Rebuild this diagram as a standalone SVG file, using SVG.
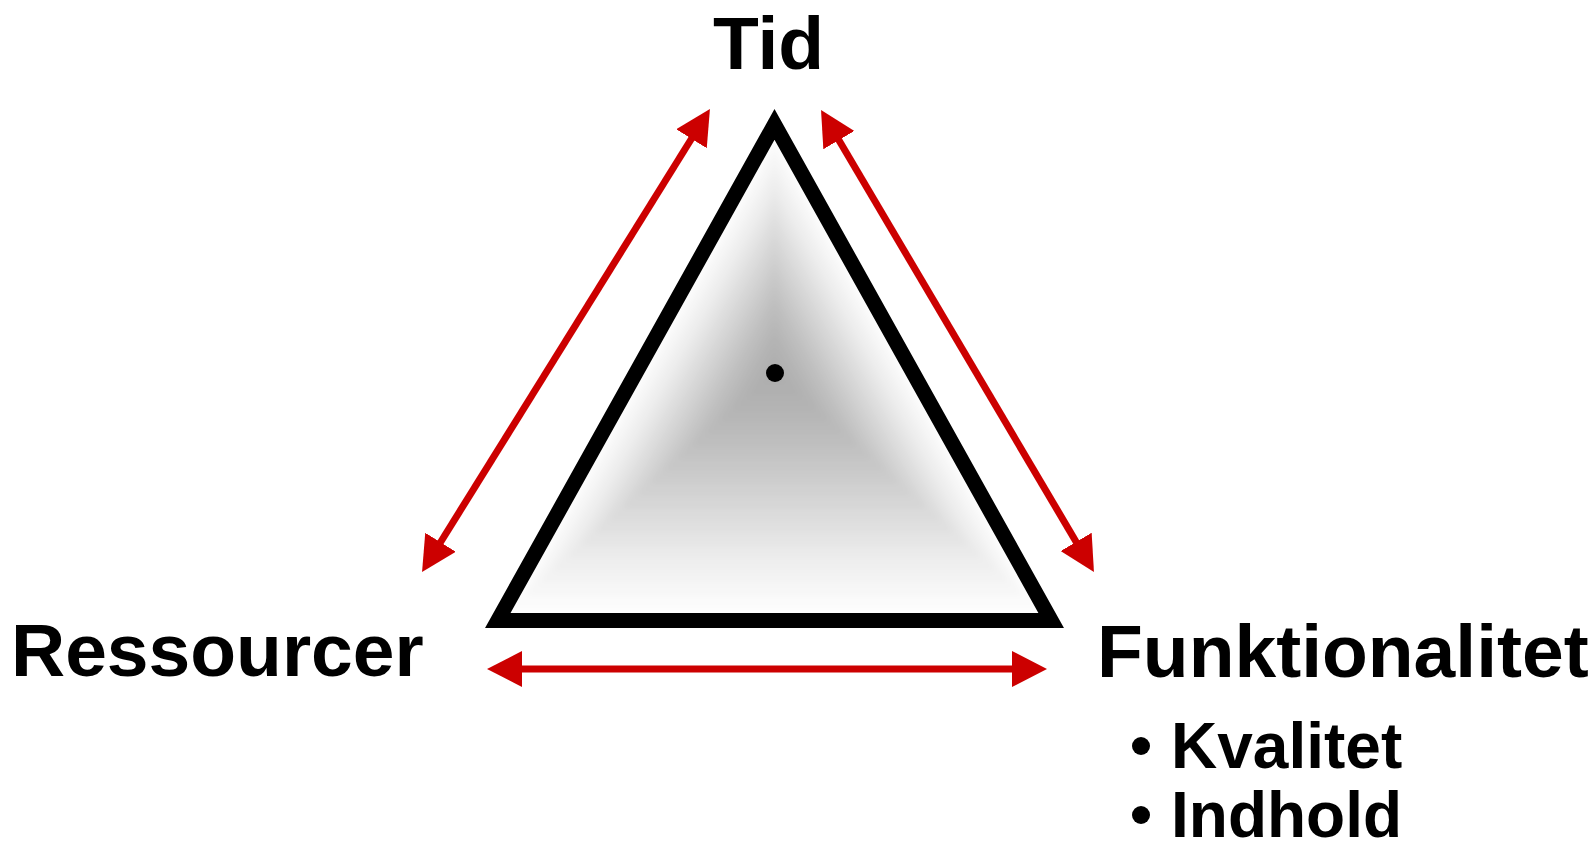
<svg xmlns="http://www.w3.org/2000/svg" width="1594" height="851" viewBox="0 0 1594 851">
  <style>
    .lbl { font-family: "Liberation Sans", Arial, sans-serif; font-weight: bold; fill: #000; }
    .big { font-size: 75px; }
    .sub { font-size: 64px; }
    .conn { stroke: #cc0000; stroke-width: 7; fill: none; marker-start: url(#head); marker-end: url(#head); }
  </style>
  <defs>
    <marker id="head" markerUnits="userSpaceOnUse" markerWidth="35" markerHeight="36" viewBox="0 0 35 36" refX="5" refY="18" orient="auto-start-reverse">
      <path d="M0,0 L35,18 L0,36 Z" fill="#cc0000"/>
    </marker>
    <polygon id="tri" points="0,-248.1 -276.7,248 276.7,248"/>
    <filter id="soft" x="-5%" y="-5%" width="110%" height="110%">
      <feGaussianBlur stdDeviation="3"/>
    </filter>
  </defs>
  <rect width="1594" height="851" fill="#fff"/>

  <g id="triangle">
    <g filter="url(#soft)">
      <use href="#tri" transform="translate(774.5 372.5) scale(1)" fill="#fefefe"/>
      <use href="#tri" transform="translate(774.5 372.5) scale(0.95)" fill="#fbfbfb"/>
      <use href="#tri" transform="translate(774.5 372.5) scale(0.90)" fill="#f7f7f7"/>
      <use href="#tri" transform="translate(774.5 372.5) scale(0.85)" fill="#f3f3f3"/>
      <use href="#tri" transform="translate(774.5 372.5) scale(0.80)" fill="#efefef"/>
      <use href="#tri" transform="translate(774.5 372.5) scale(0.75)" fill="#eaeaea"/>
      <use href="#tri" transform="translate(774.5 372.5) scale(0.70)" fill="#e5e5e5"/>
      <use href="#tri" transform="translate(774.5 372.5) scale(0.65)" fill="#e0e0e0"/>
      <use href="#tri" transform="translate(774.5 372.5) scale(0.60)" fill="#dbdbdb"/>
      <use href="#tri" transform="translate(774.5 372.5) scale(0.55)" fill="#d6d6d6"/>
      <use href="#tri" transform="translate(774.5 372.5) scale(0.50)" fill="#d1d1d1"/>
      <use href="#tri" transform="translate(774.5 372.5) scale(0.45)" fill="#cccccc"/>
      <use href="#tri" transform="translate(774.5 372.5) scale(0.40)" fill="#c7c7c7"/>
      <use href="#tri" transform="translate(774.5 372.5) scale(0.35)" fill="#c2c2c2"/>
      <use href="#tri" transform="translate(774.5 372.5) scale(0.30)" fill="#bebebe"/>
      <use href="#tri" transform="translate(774.5 372.5) scale(0.25)" fill="#bababa"/>
      <use href="#tri" transform="translate(774.5 372.5) scale(0.20)" fill="#b6b6b6"/>
      <use href="#tri" transform="translate(774.5 372.5) scale(0.15)" fill="#b3b3b3"/>
      <use href="#tri" transform="translate(774.5 372.5) scale(0.10)" fill="#b0b0b0"/>
      <use href="#tri" transform="translate(774.5 372.5) scale(0.05)" fill="#aeaeae"/>
    </g>
    <polygon points="774.5,124.4 497.8,620.5 1051.2,620.5" fill="none" stroke="#000" stroke-width="15" stroke-linejoin="miter" stroke-miterlimit="10"/>
    <circle cx="775" cy="373" r="9" fill="#000"/>
  </g>

  <g id="connectors">
    <path class="conn" d="M437.9,546.5 L694.1,134.5"/>
    <path class="conn" d="M836.3,135.8 L1078.7,546.2"/>
    <path class="conn" d="M517,669 L1017,669"/>
  </g>

  <g id="node-tid">
    <text class="lbl big" x="713" y="69">Tid</text>
  </g>
  <g id="node-ressourcer">
    <text class="lbl big" x="11" y="676">Ressourcer</text>
  </g>
  <g id="node-funktionalitet">
    <text class="lbl big" x="1097" y="677">Funktionalitet</text>
    <circle cx="1141" cy="746" r="9" fill="#000"/>
    <text class="lbl sub" x="1171" y="768">Kvalitet</text>
    <circle cx="1141" cy="815" r="9" fill="#000"/>
    <text class="lbl sub" x="1171" y="837">Indhold</text>
  </g>
</svg>
